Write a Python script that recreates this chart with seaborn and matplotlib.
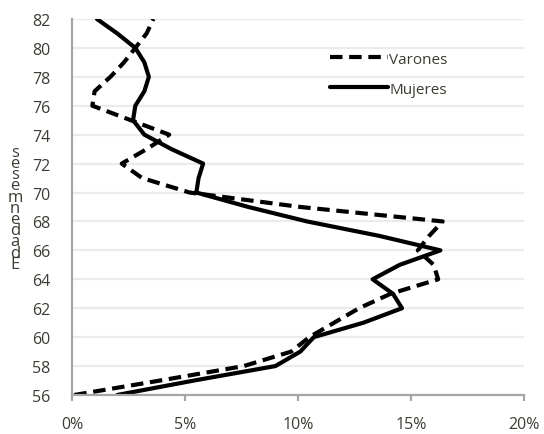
import seaborn as sns
import matplotlib.pyplot as plt
import pandas as pd

# edad en meses
ages = list(range(56, 83))

# porcentaje (%) por edad
varones = [0.1, 3.9, 7.6, 9.7, 10.5, 11.6, 12.7, 14.1, 16.2, 16.0, 15.3, 15.8, 16.4,
           10.1, 5.2, 3.1, 2.2, 3.3, 4.3, 2.6, 0.9, 1.0, 1.7, 2.3, 2.8, 3.3, 3.6]
mujeres = [2.0, 5.4, 9.0, 10.1, 10.7, 12.9, 14.6, 14.2, 13.3, 14.5, 16.3, 13.6, 10.4,
           7.8, 5.5, 5.6, 5.8, 4.4, 3.2, 2.7, 2.8, 3.2, 3.4, 3.2, 2.8, 2.0, 1.1]

x_ticks = [0, 5, 10, 15, 20]
x_labels = ["0%", "5%", "10%", "15%", "20%"]
y_ticks = list(range(56, 83, 2))

df = pd.DataFrame({
    "edad": ages * 2,
    "pct": varones + mujeres,
    "sexo": ["Varones"] * len(ages) + ["Mujeres"] * len(ages),
})

sns.set_style("white")
plt.rcParams["font.family"] = ["Open Sans", "DejaVu Sans"]
text_color = "#3c3c34"

fig = plt.figure(figsize=(5.44, 4.35), dpi=100)
ax = fig.add_axes([0.1324, 0.0897, 0.8309, 0.8644])

sns.lineplot(data=df, x="pct", y="edad", style="sexo", orient="y",
             estimator=None, sort=False, errorbar=None,
             color="black", linewidth=3,
             dashes={"Varones": (3, 1.6), "Mujeres": ""},
             style_order=["Varones", "Mujeres"], ax=ax)
for ln in ax.get_lines():
    ln.set_solid_joinstyle("round")
    ln.set_dash_joinstyle("round")
    ln.set_dash_capstyle("butt")

ax.set_xlim(0, 20)
ax.set_ylim(56, 82)
ax.set_xticks(x_ticks)
ax.set_xticklabels(x_labels)
ax.set_yticks(y_ticks)
ax.set_xlabel("")
ax.set_ylabel("")

ax.yaxis.grid(True, color="#ebebeb", linewidth=1.6)
ax.set_axisbelow(True)
for s in ["top", "right"]:
    ax.spines[s].set_visible(False)
for s in ["left", "bottom"]:
    ax.spines[s].set_color("#a6a6a6")
    ax.spines[s].set_linewidth(1.6)

ax.tick_params(axis="x", bottom=True, length=4, width=1.6, color="#a6a6a6",
               pad=11, labelsize=11.5, labelcolor=text_color)
ax.tick_params(axis="y", left=False, pad=12, labelsize=11.5, labelcolor=text_color)

leg = ax.legend(loc="upper left", bbox_to_anchor=(0.54, 0.95), frameon=False,
                fontsize=11, handlelength=3.8, handletextpad=0.1,
                labelspacing=1.0, labelcolor=text_color)
for h in leg.get_lines():
    h.set_linewidth(3)

# etiqueta del eje y, letras apiladas
ylab = "\n".join(reversed("Edadenmeses"))
fig.text(0.028, 0.52, ylab, fontsize=12, color=text_color, ha="center",
         va="center", linespacing=0.6)

fig.savefig("out.png", dpi=100)
